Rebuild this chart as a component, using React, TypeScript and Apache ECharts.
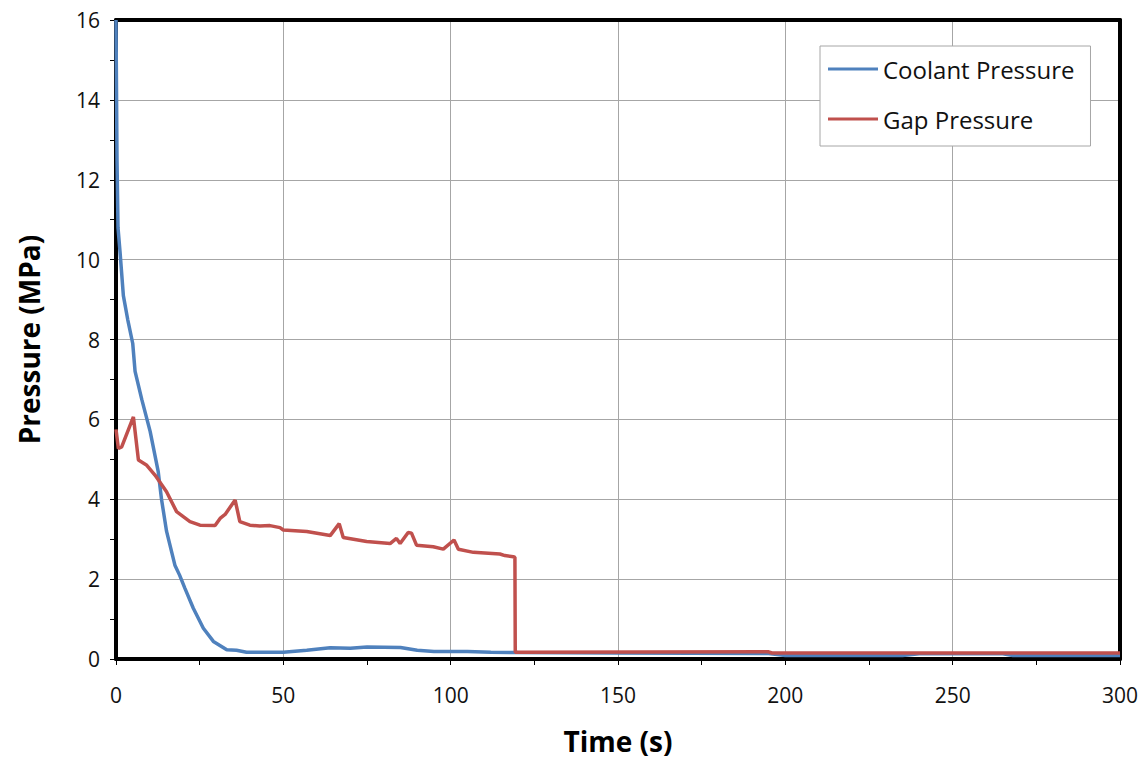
import React, { useEffect, useRef } from "react";
import * as echarts from "echarts";

const coolantTime = [0, 0.3, 0.6, 1.2, 2.2, 3.5, 5, 5.7, 7.7, 10.2, 12.6, 13.6, 15.1, 17.6, 19, 20.6, 23.1, 26.1, 29.1, 33.1, 36, 39, 50, 57, 64, 70, 75, 85, 90, 95, 105, 112, 120, 150, 195, 200, 235, 240, 265, 268, 300];
const coolantPressure = [16, 12.5, 10.8, 10.2, 9.1, 8.5, 7.9, 7.2, 6.5, 5.7, 4.7, 4.0, 3.2, 2.35, 2.1, 1.77, 1.27, 0.77, 0.44, 0.23, 0.22, 0.17, 0.17, 0.22, 0.28, 0.27, 0.3, 0.29, 0.22, 0.19, 0.19, 0.17, 0.16, 0.15, 0.14, 0.09, 0.09, 0.13, 0.13, 0.09, 0.09];

const gapTime = [0, 0.7, 1.7, 5.2, 6.7, 9.2, 11.7, 15.1, 18.1, 22.1, 25.1, 29.6, 31.1, 32.6, 35.6, 37, 40, 43, 46, 49, 50, 57, 64, 66.7, 67.9, 74.9, 81.9, 83.8, 84.9, 87.3, 88.3, 89.8, 94.8, 97.8, 101, 102.3, 106.8, 114.7, 116.2, 118.7, 119.2, 119.3, 195, 196, 300];
const gapPressure = [5.75, 5.27, 5.31, 6.06, 4.98, 4.85, 4.6, 4.19, 3.69, 3.44, 3.35, 3.34, 3.52, 3.62, 3.98, 3.44, 3.35, 3.33, 3.34, 3.29, 3.23, 3.19, 3.09, 3.39, 3.04, 2.94, 2.89, 3.02, 2.89, 3.17, 3.15, 2.85, 2.81, 2.75, 2.98, 2.75, 2.67, 2.63, 2.59, 2.56, 2.55, 0.17, 0.18, 0.15, 0.15];

const seriesNames = ["Coolant Pressure", "Gap Pressure"];
const xTitle = "Time (s)";
const yTitle = "Pressure (MPa)";

const FONT = "'Open Sans', 'Liberation Sans', sans-serif";

export default function App() {
  const ref = useRef<HTMLDivElement>(null);
  useEffect(() => {
    if (!ref.current) return;
    const chart = echarts.init(ref.current, undefined, { renderer: "svg" });
    const coolant = coolantTime.map((t, i) => [t, coolantPressure[i]]);
    const gap = gapTime.map((t, i) => [t, gapPressure[i]]);
    const axisLineStyle = { color: "#000", width: 4 };
    chart.setOption({
      animation: false,
      backgroundColor: "#fff",
      grid: { left: 116, top: 20, width: 1004, height: 642, containLabel: false },
      legend: {
        left: 820,
        top: 46,
        orient: "vertical",
        data: seriesNames,
        icon: "rect",
        itemWidth: 50,
        itemHeight: 3,
        itemGap: 22,
        itemStyle: { borderWidth: 0 },
        padding: [9, 16, 13, 8],
        borderColor: "#A6A6A6",
        borderWidth: 1,
        backgroundColor: "#fff",
        textStyle: { fontFamily: FONT, fontSize: 24, color: "#111", lineHeight: 28 },
      },
      xAxis: [
        {
          type: "value",
          min: 0,
          max: 300,
          interval: 50,
          name: xTitle,
          nameLocation: "middle",
          nameGap: 68,
          nameTextStyle: { fontFamily: FONT, fontSize: 28, fontWeight: "bold", color: "#000" },
          axisLine: { show: true, onZero: false, lineStyle: axisLineStyle },
          axisTick: { show: true, length: 6, lineStyle: { color: "#000", width: 1 } },
          minorTick: { show: true, splitNumber: 2, length: 6, lineStyle: { color: "#000", width: 1 } },
          axisLabel: { fontFamily: FONT, fontSize: 21, color: "#111", margin: 25 },
          splitLine: { show: true, lineStyle: { color: "#A6A6A6", width: 1 } },
        },
        {
          type: "value",
          position: "top",
          min: 0,
          max: 300,
          interval: 50,
          axisLine: { show: true, onZero: false, lineStyle: axisLineStyle },
          axisTick: { show: false },
          axisLabel: { show: false },
          splitLine: { show: false },
        },
      ],
      yAxis: [
        {
          type: "value",
          min: 0,
          max: 16,
          interval: 2,
          name: yTitle,
          nameLocation: "middle",
          nameGap: 73,
          nameTextStyle: { fontFamily: FONT, fontSize: 28, fontWeight: "bold", color: "#000" },
          axisLine: { show: true, onZero: false, lineStyle: axisLineStyle },
          axisTick: { show: true, length: 6, lineStyle: { color: "#000", width: 1 } },
          minorTick: { show: true, splitNumber: 2, length: 6, lineStyle: { color: "#000", width: 1 } },
          axisLabel: { fontFamily: FONT, fontSize: 21, color: "#111", margin: 16 },
          splitLine: { show: true, lineStyle: { color: "#A6A6A6", width: 1 } },
        },
        {
          type: "value",
          position: "right",
          min: 0,
          max: 16,
          interval: 2,
          axisLine: { show: true, onZero: false, lineStyle: axisLineStyle },
          axisTick: { show: false },
          axisLabel: { show: false },
          splitLine: { show: false },
        },
      ],
      series: [
        {
          name: seriesNames[0],
          type: "line",
          data: coolant,
          showSymbol: false,
          symbol: "none",
          lineStyle: { color: "#4F81BD", width: 3.5 },
          itemStyle: { color: "#4F81BD" },
          z: 2,
        },
        {
          name: seriesNames[1],
          type: "line",
          data: gap,
          showSymbol: false,
          symbol: "none",
          lineStyle: { color: "#C0504D", width: 3.5 },
          itemStyle: { color: "#C0504D" },
          z: 3,
        },
      ],
    });
    return () => chart.dispose();
  }, []);
  return (
    <div
      ref={ref}
      style={{ position: "fixed", left: 0, top: 0, width: 1141, height: 760, background: "#fff" }}
    />
  );
}
